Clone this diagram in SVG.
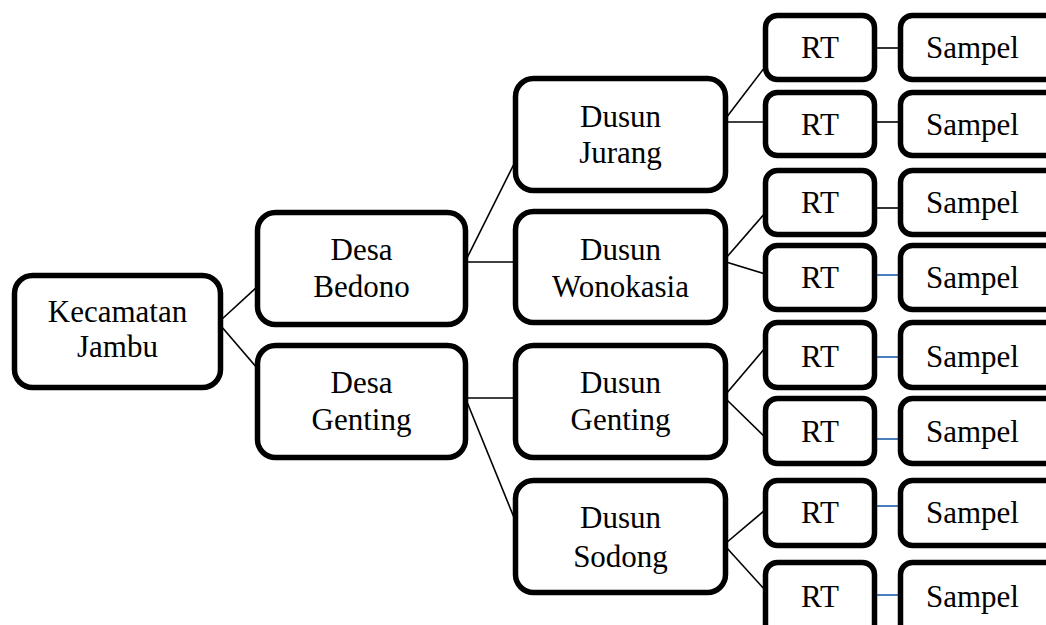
<svg xmlns="http://www.w3.org/2000/svg" width="1046" height="625" viewBox="0 0 1046 625">
<style>
.box{fill:#fff;stroke:#000;stroke-width:5.5}
.big{rx:18px;ry:18px}
.sm{rx:12px;ry:12px}
.t{font-family:'Liberation Serif','DejaVu Serif',serif;font-size:31px;fill:#000;text-anchor:middle}
.c{stroke:#000;stroke-width:1.6;fill:none}
.b{stroke:#4a7ebb;stroke-width:2;fill:none}
</style>
<rect width="1046" height="625" fill="#fff"/>
<g id="connectors">
<line class="c" x1="221" y1="320" x2="257" y2="287"/>
<line class="c" x1="221" y1="326" x2="257" y2="368"/>
<line class="c" x1="467" y1="258" x2="515" y2="162"/>
<line class="c" x1="467" y1="262" x2="515" y2="262"/>
<line class="c" x1="467" y1="398" x2="515" y2="398"/>
<line class="c" x1="467" y1="402" x2="515" y2="520"/>
<line class="c" x1="726" y1="118" x2="765" y2="67"/>
<line class="c" x1="726" y1="122" x2="765" y2="122"/>
<line class="c" x1="726" y1="258" x2="765" y2="213"/>
<line class="c" x1="726" y1="262" x2="765" y2="274"/>
<line class="c" x1="726" y1="394" x2="765" y2="348"/>
<line class="c" x1="726" y1="399" x2="765" y2="437"/>
<line class="c" x1="726" y1="543" x2="765" y2="510"/>
<line class="c" x1="726" y1="547" x2="765" y2="590"/>
<line class="c" x1="875" y1="48" x2="900" y2="48"/>
<line class="c" x1="875" y1="122" x2="900" y2="122"/>
<line class="c" x1="875" y1="208" x2="900" y2="208"/>
<line class="b" x1="875" y1="275" x2="900" y2="275"/>
<line class="b" x1="875" y1="357" x2="900" y2="357"/>
<line class="b" x1="875" y1="439" x2="900" y2="439"/>
<line class="b" x1="875" y1="506" x2="900" y2="506"/>
<line class="b" x1="875" y1="595" x2="900" y2="595"/>
</g>
<g id="kecamatan"><rect class="box big" x="14.5" y="275.5" width="206" height="112"/><text class="t" font-family="Liberation Serif, serif" x="117.5" y="322">Kecamatan</text><text class="t" x="117.5" y="357">Jambu</text></g>
<g id="desa-bedono"><rect class="box big" x="257.5" y="212.5" width="208" height="112"/><text class="t" x="361.5" y="260">Desa</text><text class="t" x="361.5" y="297">Bedono</text></g>
<g id="desa-genting"><rect class="box big" x="257.5" y="345.5" width="208" height="112"/><text class="t" x="361.5" y="393">Desa</text><text class="t" x="361.5" y="430">Genting</text></g>
<g id="dusun-jurang"><rect class="box big" x="515.5" y="78.5" width="210" height="112"/><text class="t" x="620.5" y="127">Dusun</text><text class="t" x="620.5" y="163">Jurang</text></g>
<g id="dusun-wonokasia"><rect class="box big" x="515.5" y="211.5" width="210" height="111"/><text class="t" x="620.5" y="260">Dusun</text><text class="t" x="620.5" y="297">Wonokasia</text></g>
<g id="dusun-genting"><rect class="box big" x="515.5" y="345.5" width="210" height="112"/><text class="t" x="620.5" y="393">Dusun</text><text class="t" x="620.5" y="430">Genting</text></g>
<g id="dusun-sodong"><rect class="box big" x="515.5" y="480.5" width="210" height="112"/><text class="t" x="620.5" y="528">Dusun</text><text class="t" x="620.5" y="567">Sodong</text></g>
<g id="rt1"><rect class="box sm" x="765.5" y="15.5" width="109" height="64"/><text class="t" x="820" y="58">RT</text></g>
<g id="rt2"><rect class="box sm" x="765.5" y="92.5" width="109" height="63"/><text class="t" x="820" y="135">RT</text></g>
<g id="rt3"><rect class="box sm" x="765.5" y="170.5" width="109" height="64"/><text class="t" x="820" y="213">RT</text></g>
<g id="rt4"><rect class="box sm" x="765.5" y="245.5" width="109" height="64"/><text class="t" x="820" y="288">RT</text></g>
<g id="rt5"><rect class="box sm" x="765.5" y="322.5" width="109" height="65"/><text class="t" x="820" y="367">RT</text></g>
<g id="rt6"><rect class="box sm" x="765.5" y="398.5" width="109" height="65"/><text class="t" x="820" y="442">RT</text></g>
<g id="rt7"><rect class="box sm" x="765.5" y="480.5" width="109" height="65"/><text class="t" x="820" y="523">RT</text></g>
<g id="rt8"><rect class="box sm" x="765.5" y="562.5" width="109" height="75"/><text class="t" x="820" y="607">RT</text></g>
<g id="sampel1"><rect class="box sm" x="900.5" y="15.5" width="200" height="64"/><text class="t" x="972.5" y="58">Sampel</text></g>
<g id="sampel2"><rect class="box sm" x="900.5" y="92.5" width="200" height="63"/><text class="t" x="972.5" y="135">Sampel</text></g>
<g id="sampel3"><rect class="box sm" x="900.5" y="170.5" width="200" height="64"/><text class="t" x="972.5" y="213">Sampel</text></g>
<g id="sampel4"><rect class="box sm" x="900.5" y="245.5" width="200" height="64"/><text class="t" x="972.5" y="288">Sampel</text></g>
<g id="sampel5"><rect class="box sm" x="900.5" y="322.5" width="200" height="65"/><text class="t" x="972.5" y="367">Sampel</text></g>
<g id="sampel6"><rect class="box sm" x="900.5" y="398.5" width="200" height="65"/><text class="t" x="972.5" y="442">Sampel</text></g>
<g id="sampel7"><rect class="box sm" x="900.5" y="480.5" width="200" height="65"/><text class="t" x="972.5" y="523">Sampel</text></g>
<g id="sampel8"><rect class="box sm" x="900.5" y="562.5" width="200" height="75"/><text class="t" x="972.5" y="607">Sampel</text></g>
</svg>
